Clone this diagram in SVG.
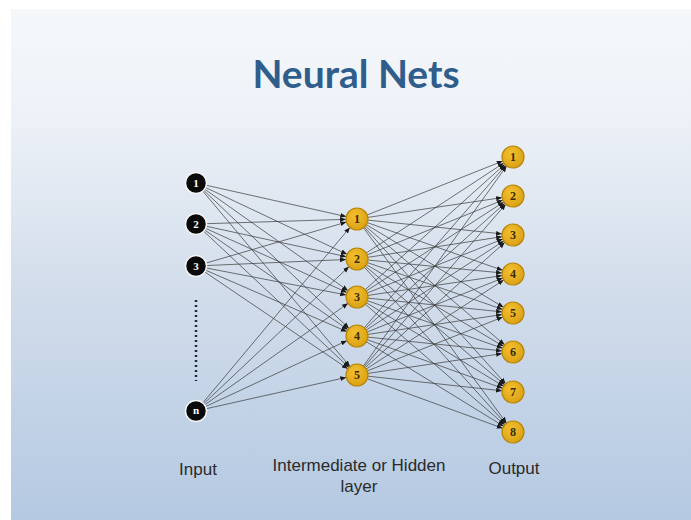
<svg xmlns="http://www.w3.org/2000/svg" width="691" height="520" viewBox="0 0 691 520">
<defs>
<linearGradient id="bg" x1="0" y1="0" x2="0" y2="1">
<stop offset="0" stop-color="#f5f8fb"/>
<stop offset="0.2" stop-color="#eef2f8"/>
<stop offset="0.55" stop-color="#d2ddeb"/>
<stop offset="1" stop-color="#b4c9e2"/>
</linearGradient>
<radialGradient id="gold" cx="0.4" cy="0.35" r="0.7">
<stop offset="0" stop-color="#f2c030"/>
<stop offset="1" stop-color="#d9a012"/>
</radialGradient>
<marker id="ah" markerUnits="userSpaceOnUse" markerWidth="30" markerHeight="10" refX="17" refY="3" orient="auto" viewBox="0 0 30 6">
<path d="M0,0.6 L6,3 L0,5.4 z" fill="#1a1a1a"/>
</marker>
<style>
.c{stroke:#3a3a3a;stroke-width:0.7;fill:none;marker-end:url(#ah)}
.in{fill:#0a0a0a;stroke:#f4f4f4;stroke-width:1.5}
.hd{fill:url(#gold);stroke:#b8860b;stroke-width:1.2}
.tw{font-family:"Liberation Serif",serif;font-weight:bold;font-size:11px;fill:#ffffff;text-anchor:middle}
.tg{font-family:"Liberation Serif",serif;font-weight:bold;font-size:12px;fill:#3b2a05;text-anchor:middle}
.lb{font-family:"Liberation Sans",Arial,sans-serif;font-size:17px;fill:#2a2a2a;text-anchor:middle}
</style>
</defs>
<rect x="0" y="0" width="691" height="520" fill="#ffffff"/>
<rect x="11" y="9" width="680" height="511" fill="url(#bg)"/>
<text x="356" y="88" font-family="Lato,'Open Sans',sans-serif" font-weight="bold" font-size="39" fill="#2f5d8c" text-anchor="middle">Neural Nets</text>
<g id="connectors">
<line class="c" x1="196" y1="183" x2="357" y2="219"/>
<line class="c" x1="196" y1="183" x2="357" y2="259"/>
<line class="c" x1="196" y1="183" x2="357" y2="297"/>
<line class="c" x1="196" y1="183" x2="357" y2="336"/>
<line class="c" x1="196" y1="183" x2="357" y2="375"/>
<line class="c" x1="196" y1="224" x2="357" y2="219"/>
<line class="c" x1="196" y1="224" x2="357" y2="259"/>
<line class="c" x1="196" y1="224" x2="357" y2="297"/>
<line class="c" x1="196" y1="224" x2="357" y2="336"/>
<line class="c" x1="196" y1="224" x2="357" y2="375"/>
<line class="c" x1="196" y1="266" x2="357" y2="219"/>
<line class="c" x1="196" y1="266" x2="357" y2="259"/>
<line class="c" x1="196" y1="266" x2="357" y2="297"/>
<line class="c" x1="196" y1="266" x2="357" y2="336"/>
<line class="c" x1="196" y1="266" x2="357" y2="375"/>
<line class="c" x1="196" y1="411" x2="357" y2="219"/>
<line class="c" x1="196" y1="411" x2="357" y2="259"/>
<line class="c" x1="196" y1="411" x2="357" y2="297"/>
<line class="c" x1="196" y1="411" x2="357" y2="336"/>
<line class="c" x1="196" y1="411" x2="357" y2="375"/>
<line class="c" x1="357" y1="219" x2="513" y2="157"/>
<line class="c" x1="357" y1="219" x2="513" y2="196"/>
<line class="c" x1="357" y1="219" x2="513" y2="235"/>
<line class="c" x1="357" y1="219" x2="513" y2="274"/>
<line class="c" x1="357" y1="219" x2="513" y2="313"/>
<line class="c" x1="357" y1="219" x2="513" y2="352"/>
<line class="c" x1="357" y1="219" x2="513" y2="392"/>
<line class="c" x1="357" y1="219" x2="513" y2="432"/>
<line class="c" x1="357" y1="259" x2="513" y2="157"/>
<line class="c" x1="357" y1="259" x2="513" y2="196"/>
<line class="c" x1="357" y1="259" x2="513" y2="235"/>
<line class="c" x1="357" y1="259" x2="513" y2="274"/>
<line class="c" x1="357" y1="259" x2="513" y2="313"/>
<line class="c" x1="357" y1="259" x2="513" y2="352"/>
<line class="c" x1="357" y1="259" x2="513" y2="392"/>
<line class="c" x1="357" y1="259" x2="513" y2="432"/>
<line class="c" x1="357" y1="297" x2="513" y2="157"/>
<line class="c" x1="357" y1="297" x2="513" y2="196"/>
<line class="c" x1="357" y1="297" x2="513" y2="235"/>
<line class="c" x1="357" y1="297" x2="513" y2="274"/>
<line class="c" x1="357" y1="297" x2="513" y2="313"/>
<line class="c" x1="357" y1="297" x2="513" y2="352"/>
<line class="c" x1="357" y1="297" x2="513" y2="392"/>
<line class="c" x1="357" y1="297" x2="513" y2="432"/>
<line class="c" x1="357" y1="336" x2="513" y2="157"/>
<line class="c" x1="357" y1="336" x2="513" y2="196"/>
<line class="c" x1="357" y1="336" x2="513" y2="235"/>
<line class="c" x1="357" y1="336" x2="513" y2="274"/>
<line class="c" x1="357" y1="336" x2="513" y2="313"/>
<line class="c" x1="357" y1="336" x2="513" y2="352"/>
<line class="c" x1="357" y1="336" x2="513" y2="392"/>
<line class="c" x1="357" y1="336" x2="513" y2="432"/>
<line class="c" x1="357" y1="375" x2="513" y2="157"/>
<line class="c" x1="357" y1="375" x2="513" y2="196"/>
<line class="c" x1="357" y1="375" x2="513" y2="235"/>
<line class="c" x1="357" y1="375" x2="513" y2="274"/>
<line class="c" x1="357" y1="375" x2="513" y2="313"/>
<line class="c" x1="357" y1="375" x2="513" y2="352"/>
<line class="c" x1="357" y1="375" x2="513" y2="392"/>
<line class="c" x1="357" y1="375" x2="513" y2="432"/>
</g>
<line x1="196" y1="300" x2="196" y2="381" stroke="#1f2a3a" stroke-width="2.5" stroke-dasharray="2 3"/>
<g id="in1"><circle class="in" cx="196" cy="183" r="10.5"/><text class="tw" x="196" y="187">1</text></g>
<g id="in2"><circle class="in" cx="196" cy="224" r="10.5"/><text class="tw" x="196" y="228">2</text></g>
<g id="in3"><circle class="in" cx="196" cy="266" r="10.5"/><text class="tw" x="196" y="270">3</text></g>
<g id="inn"><circle class="in" cx="196" cy="411" r="10.5"/><text class="tw" x="196" y="414">n</text></g>
<g id="h1"><circle class="hd" cx="357" cy="219" r="11"/><text class="tg" x="357" y="223">1</text></g>
<g id="h2"><circle class="hd" cx="357" cy="259" r="11"/><text class="tg" x="357" y="263">2</text></g>
<g id="h3"><circle class="hd" cx="357" cy="297" r="11"/><text class="tg" x="357" y="301">3</text></g>
<g id="h4"><circle class="hd" cx="357" cy="336" r="11"/><text class="tg" x="357" y="340">4</text></g>
<g id="h5"><circle class="hd" cx="357" cy="375" r="11"/><text class="tg" x="357" y="379">5</text></g>
<g id="o1"><circle class="hd" cx="513" cy="157" r="11"/><text class="tg" x="513" y="161">1</text></g>
<g id="o2"><circle class="hd" cx="513" cy="196" r="11"/><text class="tg" x="513" y="200">2</text></g>
<g id="o3"><circle class="hd" cx="513" cy="235" r="11"/><text class="tg" x="513" y="239">3</text></g>
<g id="o4"><circle class="hd" cx="513" cy="274" r="11"/><text class="tg" x="513" y="278">4</text></g>
<g id="o5"><circle class="hd" cx="513" cy="313" r="11"/><text class="tg" x="513" y="317">5</text></g>
<g id="o6"><circle class="hd" cx="513" cy="352" r="11"/><text class="tg" x="513" y="356">6</text></g>
<g id="o7"><circle class="hd" cx="513" cy="392" r="11"/><text class="tg" x="513" y="396">7</text></g>
<g id="o8"><circle class="hd" cx="513" cy="432" r="11"/><text class="tg" x="513" y="436">8</text></g>
<text class="lb" x="198" y="475">Input</text>
<text class="lb" x="359" y="471">Intermediate or Hidden</text>
<text class="lb" x="359" y="492">layer</text>
<text class="lb" x="514" y="474">Output</text>
</svg>
